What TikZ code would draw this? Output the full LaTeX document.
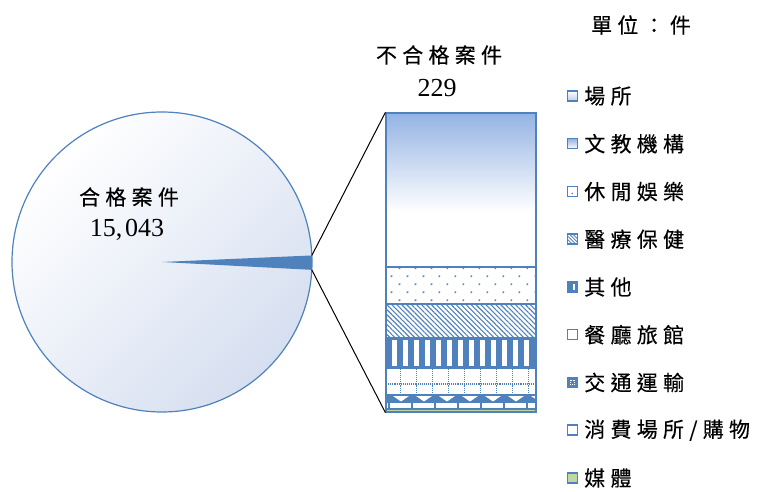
\documentclass[tikz,border=0pt]{standalone}
\usepackage{fontspec}
\setmainfont{Liberation Serif}
\newfontfamily\cjk{Noto Sans CJK TC}[LetterSpace=25, FakeBold=0.3]
\usetikzlibrary{calc,positioning,patterns.meta,shadings}
\definecolor{ablue}{HTML}{4F81BD}
\definecolor{pieblue}{HTML}{D6DFF0}
\definecolor{barblue}{HTML}{94B3E3}
\definecolor{mgreen}{HTML}{C3D69B}
\begin{document}
\begin{tikzpicture}[x=1pt, y=1pt, semithick,
  lbl/.style={font=\cjk\fontsize{21}{25}\selectfont, inner sep=0pt},
  num/.style={font=\fontsize{26}{30}\selectfont, inner sep=0pt},
  legbox/.style={draw=ablue, line width=1.5pt, minimum size=10pt, inner sep=0pt, fill=white},
  seg/.style={draw=ablue, line width=1.2pt},
  lgA/.style={top color=white, bottom color=pieblue!80!ablue},
  lgB/.style={top color=barblue, bottom color=white},
  lgC/.style={path picture={\fill[ablue] ($(path picture bounding box.center)+(0,-2pt)$) circle (0.9pt);}},
  lgD/.style={pattern={Lines[angle=-45, distance=2.5pt, line width=0.9pt]}, pattern color=ablue},
  lgE/.style={fill=ablue, path picture={\fill[white] ($(path picture bounding box.south)+(0.5pt,2pt)$) rectangle ($(path picture bounding box.north)+(2.7pt,-2pt)$);}},
  lgF/.style={},
  lgG/.style={fill=ablue, path picture={\draw[white, densely dotted, line width=0.9pt] ($(path picture bounding box.center)+(-2.3pt,-2.3pt)$) rectangle +(4.6pt,4.6pt);}},
  lgH/.style={},
  lgI/.style={fill=mgreen},
  ]
\useasboundingbox (0,0) rectangle (758,492);

% pie
\coordinate (pc) at (162,230);
\shade[shading=axis, top color=white, bottom color=pieblue, shading angle=45] (pc) circle[radius=150pt];
\draw[ablue, line width=1.2pt] (pc) circle[radius=150pt];
\coordinate (w1) at ($(pc)+(2.5:150pt)$);
\coordinate (w2) at ($(pc)+(-3:150pt)$);
\fill[ablue] (pc) -- (w2) arc[start angle=-3, end angle=2.5, radius=150pt] -- cycle;
\node[lbl] (pass) at (129,295) {合格案件};
\node[num] (passn) at (127,262) {15,\kern3pt043};

% bar of pie
\shade[top color=barblue, bottom color=white] (386,280) rectangle (536,379);
\fill[pattern={Dots[distance=11.3pt, angle=45, radius=1.1pt]}, pattern color=ablue] (386,188) rectangle (536,225);
\fill[pattern={Lines[angle=-45, distance=3.5pt, line width=1.1pt]}, pattern color=ablue] (386,154) rectangle (536,188);
\fill[ablue] (386,124) rectangle (536,154);
\foreach \k in {0,...,12}
  \fill[white] ({391.7+11*\k},125.5) rectangle +(5.6,26);
\draw[ablue, densely dotted, line width=1.1pt] (386,108) -- (536,108);
\foreach \k in {0,...,8}
  \draw[ablue, densely dotted, line width=1.1pt] ({400.7+16*\k},97) -- ({400.7+16*\k},124);
\fill[ablue] (386,89) rectangle (536,97);
\foreach \k in {0,...,6}
  \fill[white] ({393+23*\k},96) -- ({409+23*\k},96) -- ({401+23*\k},90.5) -- cycle;
\foreach \k in {0,...,6}
  \draw[ablue, line width=1.4pt] ({389+23*\k},83) -- ({389+23*\k},89);
\fill[mgreen] (386,80.5) rectangle (536,83);
\draw[seg] (386,83) -- (536,83);
\foreach \y in {97,124,154,188,225}
  \draw[seg] (386,\y) -- (536,\y);
\node[seg, minimum width=150pt, minimum height=299pt, inner sep=0pt] (bar) at (461,229.5) {};
\node[lbl] (fail) at (439,437) {不合格案件};
\node[num] (failn) at (437,404) {229};

% connectors
\draw[black, line width=1pt] (w1) -- (bar.north west);
\draw[black, line width=1pt] (w2) -- (bar.south west);

% legend
\node[lbl] (unit) at (641,467) {單位：件};
\foreach \t/\s [count=\i] in {場所/lgA, 文教機構/lgB, 休閒娛樂/lgC, 醫療保健/lgD, 其他/lgE, 餐廳旅館/lgF, 交通運輸/lgG, {消費場所/購物}/lgH, 媒體/lgI} {
  \node[lbl, anchor=west] (l\i) at (584,{396-47.75*(\i-1)}) {\t};
  \node[legbox, \s, left=6pt of l\i] (m\i) {};
}
\end{tikzpicture}
\end{document}
